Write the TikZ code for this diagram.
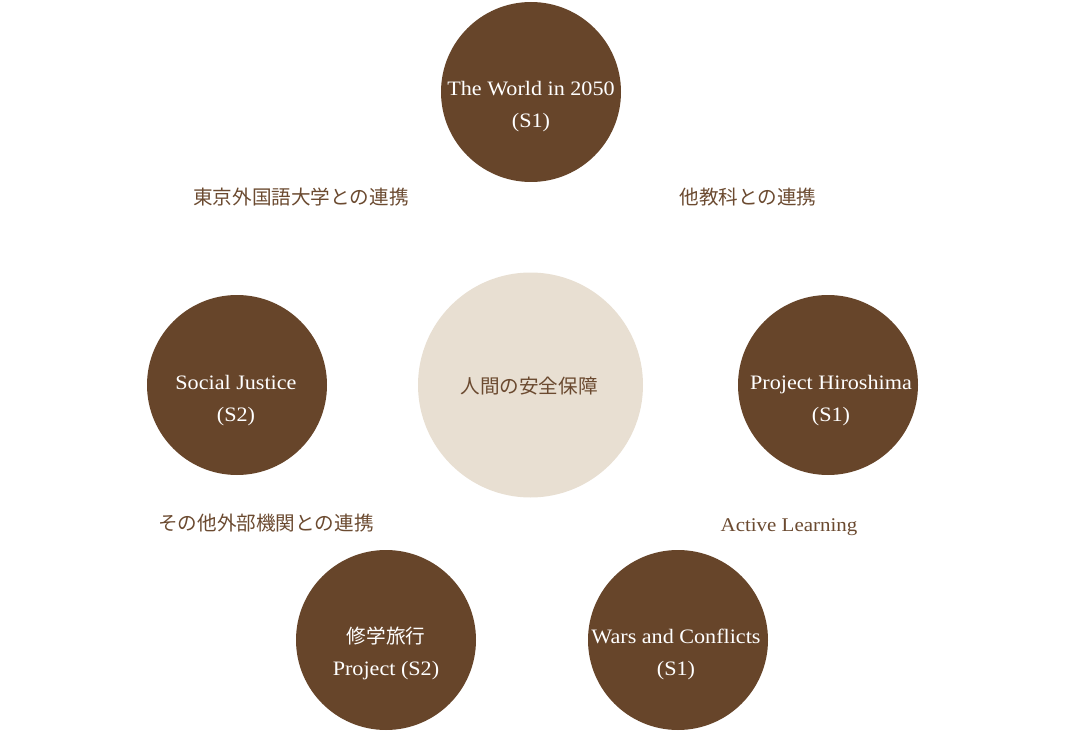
\documentclass[tikz,border=0pt]{standalone}
\usepackage{fontspec}
\setmainfont[FakeStretch=1.08]{Liberation Serif}
\newfontfamily\jfont{Noto Sans CJK JP}
\definecolor{darkbrown}{HTML}{67452A}
\definecolor{beige}{HTML}{E8DFD2}
\definecolor{txtbrown}{HTML}{6B4A30}
\begin{document}
\begin{tikzpicture}[x=1pt,y=-1pt,
  topic/.style={circle,fill=darkbrown,minimum size=180pt,inner sep=0pt},
  core/.style={circle,fill=beige,minimum size=225pt,inner sep=0pt},
  ttl/.style={text=white,font=\fontsize{20.5}{24}\selectfont,anchor=base},
  lbl/.style={text=txtbrown,font=\jfont\fontsize{19.6}{24}\selectfont},
  elbl/.style={text=txtbrown,font=\fontsize{19.4}{24}\selectfont}]
\useasboundingbox (0,0) rectangle (1072,733);
\node[topic] (c1) at (531,92) {};
\node[core] (c0) at (530.5,385) {};
\node[topic] (c2) at (237,385) {};
\node[topic] (c3) at (828,385) {};
\node[topic] (c4) at (386,640) {};
\node[topic] (c5) at (678,640) {};
% titles
\node[ttl] (t1a) at (531,96) {The World in 2050};
\node[ttl] (t1b) at (531,128) {(S1)};
\node[ttl] (t2a) at (236,389) {Social Justice};
\node[ttl] (t2b) at (236,421) {(S2)};
\node[ttl] (t3a) at (831,389) {Project Hiroshima};
\node[ttl] (t3b) at (831,421) {(S1)};
\node[ttl,font=\jfont\fontsize{19.6}{24}\selectfont] (t4a) at (386,643) {修学旅行};
\node[ttl] (t4b) at (386,675) {Project (S2)};
\node[ttl] (t5a) at (676,643) {Wars and Conflicts};
\node[ttl] (t5b) at (676,675) {(S1)};
\node[lbl] (l0) at (529,386) {人間の安全保障};
\node[lbl] (l1) at (301,197) {東京外国語大学との連携};
\node[lbl] (l2) at (748,197) {他教科との連携};
\node[lbl] (l3) at (266,523) {その他外部機関との連携};
\node[elbl] (l4) at (789,527) {Active Learning};
\end{tikzpicture}
\end{document}
